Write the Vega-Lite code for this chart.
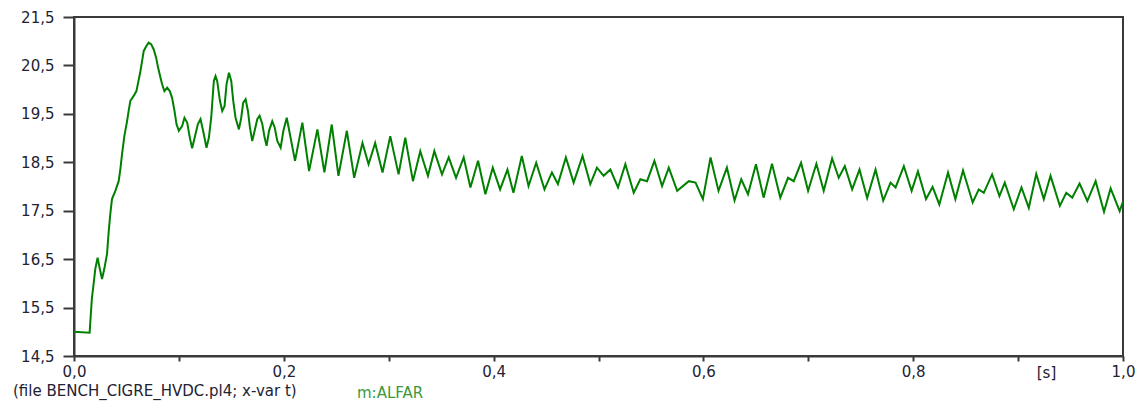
{
  "$schema": "https://vega.github.io/schema/vega-lite/v6.json",
  "width": 1049,
  "height": 339,
  "autosize": "none",
  "padding": {"left": 74, "top": 17, "right": 18, "bottom": 47},
  "background": "white",
  "config": {
    "view": {"stroke": "#3a3a3a", "strokeWidth": 2},
    "font": "DejaVu Sans"
  },
  "title": {
    "text": "(file BENCH_CIGRE_HVDC.pl4; x-var t)",
    "orient": "bottom",
    "anchor": "start",
    "frame": "group",
    "dx": -61,
    "dy": -17,
    "offset": 0,
    "fontSize": 15,
    "fontWeight": "normal",
    "color": "#222233",
    "font": "DejaVu Sans"
  },
  "data": {
    "values": [
      {"t": 0.0, "v": 15.0}, {"t": 0.0149, "v": 14.98}, {"t": 0.0155, "v": 15.19}, {"t": 0.0171, "v": 15.70},
      {"t": 0.0187, "v": 15.99}, {"t": 0.0203, "v": 16.30}, {"t": 0.0225, "v": 16.53}, {"t": 0.0244, "v": 16.32},
      {"t": 0.0267, "v": 16.09}, {"t": 0.0289, "v": 16.30}, {"t": 0.0315, "v": 16.61}, {"t": 0.0330, "v": 17.05},
      {"t": 0.0346, "v": 17.43}, {"t": 0.0362, "v": 17.74}, {"t": 0.0394, "v": 17.91}, {"t": 0.0426, "v": 18.11},
      {"t": 0.0442, "v": 18.36}, {"t": 0.0458, "v": 18.67}, {"t": 0.0480, "v": 19.04}, {"t": 0.0506, "v": 19.35},
      {"t": 0.0521, "v": 19.56}, {"t": 0.0537, "v": 19.77}, {"t": 0.0569, "v": 19.87}, {"t": 0.0595, "v": 19.97},
      {"t": 0.0611, "v": 20.14}, {"t": 0.0633, "v": 20.38}, {"t": 0.0649, "v": 20.59}, {"t": 0.0665, "v": 20.80},
      {"t": 0.0690, "v": 20.90}, {"t": 0.0712, "v": 20.97}, {"t": 0.0735, "v": 20.94}, {"t": 0.0760, "v": 20.83},
      {"t": 0.0783, "v": 20.66}, {"t": 0.0802, "v": 20.45}, {"t": 0.0824, "v": 20.25}, {"t": 0.0840, "v": 20.11},
      {"t": 0.0862, "v": 19.97}, {"t": 0.0888, "v": 20.04}, {"t": 0.0913, "v": 19.97}, {"t": 0.0935, "v": 19.83},
      {"t": 0.0958, "v": 19.56}, {"t": 0.0977, "v": 19.29}, {"t": 0.0999, "v": 19.15}, {"t": 0.1031, "v": 19.25},
      {"t": 0.1053, "v": 19.42}, {"t": 0.1079, "v": 19.32}, {"t": 0.1104, "v": 19.01}, {"t": 0.1126, "v": 18.79},
      {"t": 0.1158, "v": 19.08}, {"t": 0.1181, "v": 19.29}, {"t": 0.1206, "v": 19.39}, {"t": 0.1231, "v": 19.15},
      {"t": 0.1263, "v": 18.80}, {"t": 0.1286, "v": 19.01}, {"t": 0.1308, "v": 19.42}, {"t": 0.1333, "v": 20.18},
      {"t": 0.1349, "v": 20.28}, {"t": 0.1365, "v": 20.18}, {"t": 0.1391, "v": 19.77}, {"t": 0.1413, "v": 19.56},
      {"t": 0.1435, "v": 19.66}, {"t": 0.1454, "v": 20.11}, {"t": 0.1477, "v": 20.35}, {"t": 0.1499, "v": 20.18},
      {"t": 0.1518, "v": 19.77}, {"t": 0.1540, "v": 19.42}, {"t": 0.1572, "v": 19.18}, {"t": 0.1594, "v": 19.42},
      {"t": 0.1613, "v": 19.73}, {"t": 0.1636, "v": 19.80}, {"t": 0.1658, "v": 19.56}, {"t": 0.1677, "v": 19.22},
      {"t": 0.1699, "v": 18.94}, {"t": 0.1722, "v": 19.15}, {"t": 0.1747, "v": 19.39}, {"t": 0.1769, "v": 19.46},
      {"t": 0.1795, "v": 19.29}, {"t": 0.1817, "v": 19.01}, {"t": 0.1836, "v": 18.84}, {"t": 0.1859, "v": 19.15},
      {"t": 0.1890, "v": 19.35}, {"t": 0.1913, "v": 19.22}, {"t": 0.1938, "v": 18.94}, {"t": 0.1970, "v": 18.80},
      {"t": 0.1996, "v": 19.15},
      {"t": 0.2028, "v": 19.42}, {"t": 0.2107, "v": 18.53}, {"t": 0.2177, "v": 19.32}, {"t": 0.2241, "v": 18.32},
      {"t": 0.2320, "v": 19.18}, {"t": 0.2387, "v": 18.29}, {"t": 0.2457, "v": 19.28}, {"t": 0.2521, "v": 18.22},
      {"t": 0.2601, "v": 19.15}, {"t": 0.2671, "v": 18.18}, {"t": 0.2750, "v": 18.90}, {"t": 0.2808, "v": 18.46},
      {"t": 0.2871, "v": 18.90}, {"t": 0.2941, "v": 18.29}, {"t": 0.3015, "v": 19.04}, {"t": 0.3094, "v": 18.25},
      {"t": 0.3158, "v": 19.01}, {"t": 0.3231, "v": 18.11}, {"t": 0.3301, "v": 18.73}, {"t": 0.3374, "v": 18.22},
      {"t": 0.3435, "v": 18.73}, {"t": 0.3508, "v": 18.25}, {"t": 0.3572, "v": 18.60}, {"t": 0.3642, "v": 18.18},
      {"t": 0.3715, "v": 18.60}, {"t": 0.3779, "v": 17.98}, {"t": 0.3852, "v": 18.53}, {"t": 0.3922, "v": 17.84},
      {"t": 0.3992, "v": 18.39},
      {"t": 0.4062, "v": 17.94}, {"t": 0.4132, "v": 18.35}, {"t": 0.4189, "v": 17.87}, {"t": 0.4269, "v": 18.63},
      {"t": 0.4333, "v": 18.01}, {"t": 0.4406, "v": 18.49}, {"t": 0.4485, "v": 17.94}, {"t": 0.4556, "v": 18.29},
      {"t": 0.4613, "v": 18.05}, {"t": 0.4689, "v": 18.60}, {"t": 0.4763, "v": 18.08}, {"t": 0.4848, "v": 18.63},
      {"t": 0.4922, "v": 18.05}, {"t": 0.4985, "v": 18.39}, {"t": 0.5049, "v": 18.22}, {"t": 0.5113, "v": 18.35},
      {"t": 0.5186, "v": 17.98}, {"t": 0.5256, "v": 18.46}, {"t": 0.5336, "v": 17.87}, {"t": 0.5399, "v": 18.15},
      {"t": 0.5463, "v": 18.11}, {"t": 0.5533, "v": 18.53}, {"t": 0.5606, "v": 18.01}, {"t": 0.5670, "v": 18.39},
      {"t": 0.5750, "v": 17.91}, {"t": 0.5861, "v": 18.11}, {"t": 0.5925, "v": 18.08}, {"t": 0.5995, "v": 17.74},
      {"t": 0.6068, "v": 18.60},
      {"t": 0.6144, "v": 17.91}, {"t": 0.6224, "v": 18.39}, {"t": 0.6297, "v": 17.71}, {"t": 0.6361, "v": 18.15},
      {"t": 0.6425, "v": 17.84}, {"t": 0.6501, "v": 18.46}, {"t": 0.6574, "v": 17.77}, {"t": 0.6654, "v": 18.47},
      {"t": 0.6733, "v": 17.77}, {"t": 0.6807, "v": 18.18}, {"t": 0.6861, "v": 18.11}, {"t": 0.6931, "v": 18.49},
      {"t": 0.6998, "v": 17.91}, {"t": 0.7077, "v": 18.47}, {"t": 0.7147, "v": 17.91}, {"t": 0.7227, "v": 18.58},
      {"t": 0.7290, "v": 18.18}, {"t": 0.7348, "v": 18.42}, {"t": 0.7418, "v": 17.94}, {"t": 0.7488, "v": 18.35},
      {"t": 0.7561, "v": 17.76}, {"t": 0.7641, "v": 18.35}, {"t": 0.7714, "v": 17.71}, {"t": 0.7784, "v": 18.08},
      {"t": 0.7832, "v": 17.98}, {"t": 0.7911, "v": 18.42}, {"t": 0.7985, "v": 17.91},
      {"t": 0.8045, "v": 18.31}, {"t": 0.8122, "v": 17.74}, {"t": 0.8185, "v": 17.99}, {"t": 0.8249, "v": 17.63},
      {"t": 0.8332, "v": 18.29}, {"t": 0.8402, "v": 17.74}, {"t": 0.8475, "v": 18.33}, {"t": 0.8567, "v": 17.67},
      {"t": 0.8625, "v": 17.94}, {"t": 0.8673, "v": 17.87}, {"t": 0.8752, "v": 18.25}, {"t": 0.8822, "v": 17.80},
      {"t": 0.8873, "v": 18.08}, {"t": 0.8959, "v": 17.53}, {"t": 0.9032, "v": 17.98}, {"t": 0.9102, "v": 17.56},
      {"t": 0.9173, "v": 18.26}, {"t": 0.9245, "v": 17.74}, {"t": 0.9309, "v": 18.22}, {"t": 0.9398, "v": 17.60},
      {"t": 0.9459, "v": 17.87}, {"t": 0.9516, "v": 17.77}, {"t": 0.9586, "v": 18.06}, {"t": 0.9660, "v": 17.70},
      {"t": 0.9739, "v": 18.11}, {"t": 0.9819, "v": 17.48}, {"t": 0.9882, "v": 17.96}, {"t": 0.9968, "v": 17.49},
      {"t": 1.0, "v": 17.69}
    ]
  },
  "mark": {"type": "line", "strokeWidth": 2, "clip": true},
  "encoding": {
    "x": {
      "field": "t",
      "type": "quantitative",
      "scale": {"domain": [0, 1], "nice": false, "zero": false},
      "axis": {
        "values": [0, 0.1, 0.2, 0.3, 0.4, 0.5, 0.6, 0.7, 0.8, 0.9, 1.0],
        "labelExpr": "(round(datum.value * 10) % 2 == 0) ? replace(format(datum.value, '.1f'), '.', ',') : ''",
        "grid": false,
        "tickSize": 5,
        "tickWidth": 2,
        "tickColor": "#3a3a3a",
        "domainColor": "#3a3a3a",
        "domainWidth": 2,
        "labelFontSize": 15,
        "labelFont": "DejaVu Sans",
        "labelColor": "#222233",
        "labelPadding": 3,
        "labelFlush": false,
        "labelOverlap": false,
        "labelBound": false,
        "title": "[s]",
        "titleFont": "DejaVu Sans",
        "titleFontSize": 15,
        "titleFontWeight": "normal",
        "titleColor": "#222233",
        "titleX": 972,
        "titleY": 21,
        "titleAlign": "center",
        "titleBaseline": "alphabetic",
        "titleAnchor": null
      }
    },
    "y": {
      "field": "v",
      "type": "quantitative",
      "scale": {"domain": [14.5, 21.5], "nice": false, "zero": false},
      "axis": {
        "values": [14.5, 15.5, 16.5, 17.5, 18.5, 19.5, 20.5, 21.5],
        "labelExpr": "replace(format(datum.value, '.1f'), '.', ',')",
        "grid": false,
        "tickSize": 11,
        "tickWidth": 2,
        "tickColor": "#3a3a3a",
        "domainColor": "#3a3a3a",
        "domainWidth": 2,
        "labelFontSize": 15,
        "labelFont": "DejaVu Sans",
        "labelColor": "#222233",
        "labelPadding": 9,
        "labelOverlap": false,
        "labelBound": false,
        "labelFlush": false,
        "title": null
      }
    },
    "color": {
      "datum": "m:ALFAR",
      "type": "nominal",
      "scale": {"range": ["#008000"]},
      "legend": {
        "orient": "none",
        "legendX": 268,
        "legendY": 368,
        "title": null,
        "symbolSize": 0,
        "symbolStrokeWidth": 0,
        "symbolOpacity": 0,
        "labelOffset": 0,
        "padding": 0,
        "labelFont": "DejaVu Sans",
        "labelFontSize": 15,
        "labelColor": "#3a9a3a"
      }
    }
  }
}
